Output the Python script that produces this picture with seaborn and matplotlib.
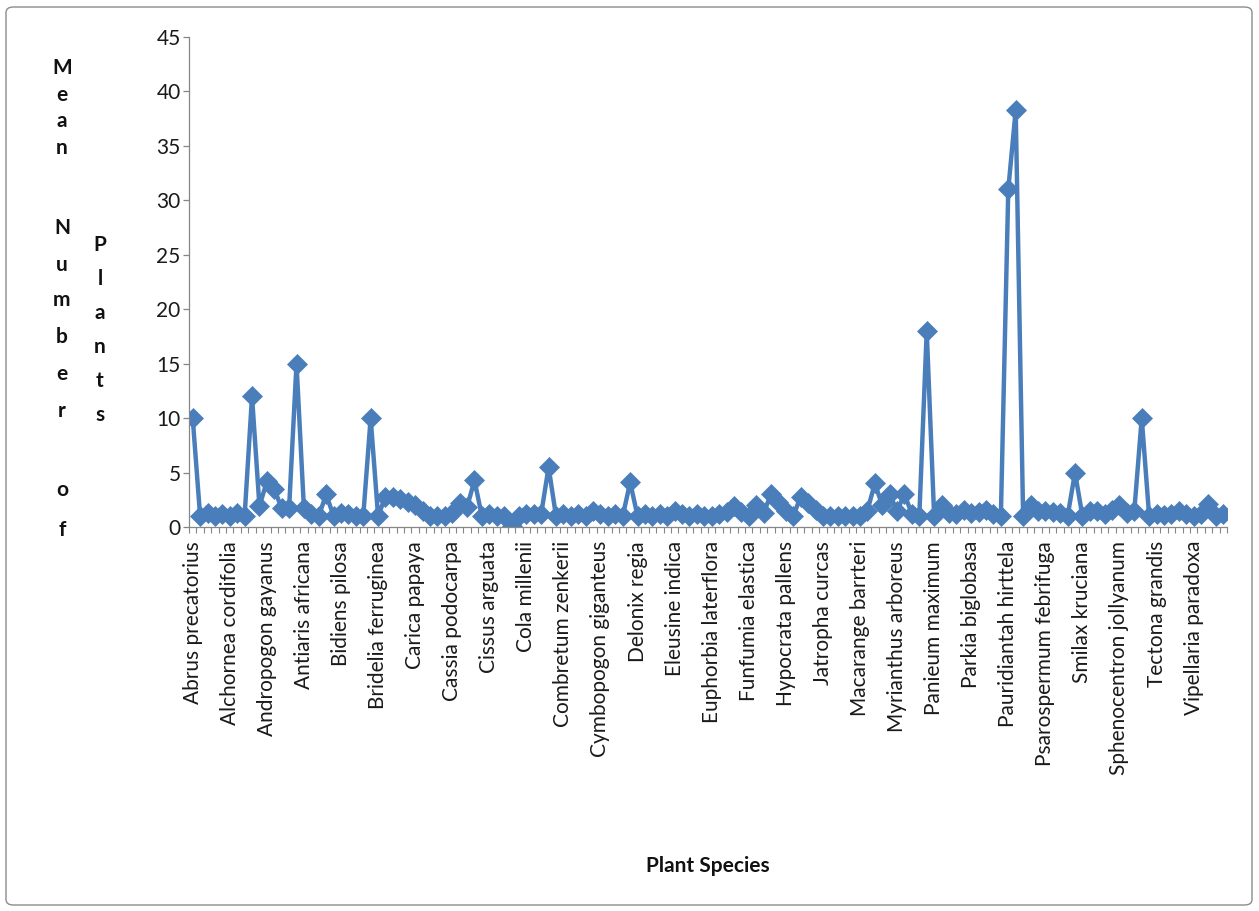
import numpy as np
import pandas as pd
import seaborn as sns
import matplotlib.pyplot as plt
from matplotlib.patches import FancyBboxPatch

# Species shown on the category axis (every fifth category is labelled)
species_labels = [
    "Abrus precatorius", "Alchornea cordifolia", "Andropogon gayanus",
    "Antiaris africana", "Bidiens pilosa", "Bridelia ferruginea",
    "Carica papaya", "Cassia podocarpa", "Cissus arguata", "Cola millenii",
    "Combretum zenkerii", "Cymbopogon giganteus", "Delonix regia",
    "Eleusine indica", "Euphorbia laterflora", "Funfumia elastica",
    "Hypocrata pallens", "Jatropha curcas", "Macarange barrteri",
    "Myrianthus arboreus", "Panieum maximum", "Parkia biglobasa",
    "Pauridiantah hirttela", "Psarospermum febrifuga", "Smilax kruciana",
    "Sphenocentron jollyanum", "Tectona grandis", "Vipellaria paradoxa",
]
label_step = 5

# Mean number of plants for each species, in alphabetical order
mean_plants = [
    10, 1.0, 1.3, 1.0, 1.2, 1.0, 1.3, 1.0, 12, 1.9,
    4.2, 3.5, 1.7, 1.7, 15, 1.7, 1.2, 1.0, 3.0, 1.0,
    1.3, 1.2, 1.0, 1.0, 10, 1.0, 2.8, 2.8, 2.6, 2.3,
    2.0, 1.5, 1.0, 1.0, 1.0, 1.3, 2.2, 1.8, 4.3, 1.0,
    1.2, 1.0, 1.0, 0.1, 1.0, 1.2, 1.2, 1.2, 5.5, 1.0,
    1.2, 1.0, 1.2, 1.0, 1.5, 1.2, 1.0, 1.2, 1.0, 4.1,
    1.0, 1.2, 1.0, 1.2, 1.0, 1.5, 1.2, 1.0, 1.2, 1.0,
    1.0, 1.2, 1.4, 1.9, 1.4, 1.0, 2.0, 1.3, 3.0, 2.3,
    1.5, 1.0, 2.8, 2.2, 1.6, 1.0, 1.0, 1.0, 1.0, 1.0,
    1.0, 1.5, 4.0, 2.0, 3.0, 1.5, 3.0, 1.2, 1.0, 18,
    1.0, 2.0, 1.3, 1.2, 1.6, 1.3, 1.4, 1.6, 1.2, 1.0,
    31, 38.3, 1.0, 2.0, 1.5, 1.5, 1.4, 1.3, 1.0, 5.0,
    1.0, 1.5, 1.5, 1.2, 1.6, 2.0, 1.3, 1.5, 10, 1.0,
    1.2, 1.1, 1.2, 1.5, 1.2, 1.0, 1.2, 2.1, 1.0, 1.2,
]

y_ticks = list(range(0, 46, 5))

sns.set_theme(style="white")
plt.rcParams["font.family"] = ["Lato", "DejaVu Sans"]

n = len(mean_plants)
df = pd.DataFrame({"category": np.arange(n), "mean": mean_plants})

W, H = 1259, 911
fig = plt.figure(figsize=(W / 100, H / 100), dpi=100)
fig.patch.set_facecolor("white")

# Chart-area frame
frame = FancyBboxPatch((6 / W, 6 / H), 1 - 13 / W, 1 - 13 / H,
                       boxstyle="round,pad=0,rounding_size=0.006",
                       transform=fig.transFigure, fill=False,
                       edgecolor="#8c8c8c", linewidth=1.0)
fig.patches.append(frame)

left, right, top, bottom = 189, 1227, 37, 527
ax = fig.add_axes([left / W, 1 - bottom / H, (right - left) / W, (bottom - top) / H])

blue = "#4a7ebb"
sns.lineplot(data=df, x="category", y="mean", ax=ax, color=blue,
             linewidth=3.2, marker="D", markersize=10,
             markeredgecolor=blue, markeredgewidth=0.5)

ax.set_xlim(-0.5, n - 0.5)
ax.set_ylim(0, 45)
ax.set_yticks(y_ticks)
ax.set_yticklabels([str(v) for v in y_ticks])

positions = np.arange(0, n, label_step)[:len(species_labels)]
ax.set_xticks(positions)
ax.set_xticklabels(species_labels, rotation=90, ha="center", va="top")
ax.set_xticks(np.arange(-0.5, n, 1), minor=True)

axis_grey = "#868686"
for side in ("top", "right"):
    ax.spines[side].set_visible(False)
for side in ("left", "bottom"):
    ax.spines[side].set_color(axis_grey)
    ax.spines[side].set_linewidth(0.9)

ax.tick_params(axis="y", direction="out", length=4, width=0.9, color=axis_grey,
               labelsize=15, pad=2, labelcolor="#1a1a1a", left=True)
ax.tick_params(axis="x", which="major", length=0, labelsize=15, pad=10,
               labelcolor="#1a1a1a", bottom=True)
ax.tick_params(axis="x", which="minor", direction="out", length=4.5, width=0.8,
               color=axis_grey, bottom=True)
ax.set_xlabel("")
ax.set_ylabel("")
ax.grid(False)

# Stacked axis title, one character per line
col1 = ["M", "e", "a", "n", "N", "u", "m", "b", "e", "r", "o", "f"]
col1_y = [68, 95, 121, 148, 228, 265, 300, 337, 374, 411, 490, 530]
col2 = ["P", "l", "a", "n", "t", "s"]
col2_y = [245, 279, 313, 347, 381, 415]
for ch, yy in zip(col1, col1_y):
    fig.text(62 / W, 1 - yy / H, ch, ha="center", va="center",
             fontsize=15, fontweight="bold", color="#111111")
for ch, yy in zip(col2, col2_y):
    fig.text(100 / W, 1 - yy / H, ch, ha="center", va="center",
             fontsize=15, fontweight="bold", color="#111111")

fig.text(708 / W, 1 - 866 / H, "Plant Species", ha="center", va="center",
         fontsize=15, fontweight="bold", color="#111111")

fig.savefig("out.png", dpi=100, facecolor="white")
